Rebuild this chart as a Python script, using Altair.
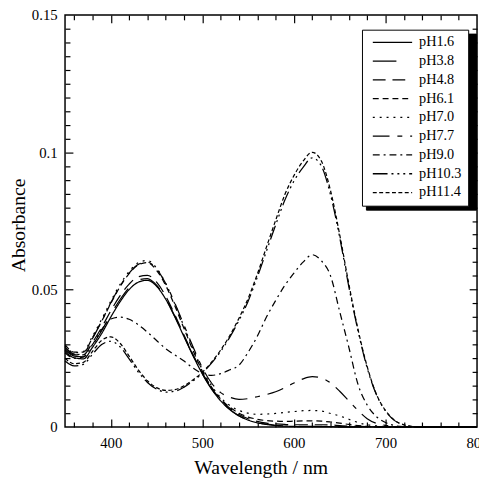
import altair as alt
import pandas as pd

# ---------------- data ----------------
wavelength = [350, 360, 370, 380, 390, 400, 410, 420, 430, 440,
              450, 460, 470, 480, 490, 500, 510, 520, 530, 540,
              550, 560, 570, 580, 590, 600, 610, 620, 630, 640,
              650, 660, 670, 680, 690, 700, 710, 720, 730, 740,
              750, 760, 770, 780, 790, 800]

ph16 = [0.0275, 0.0252, 0.0248, 0.0290, 0.0340, 0.0400, 0.0455, 0.0500, 0.0527, 0.0534,
        0.0512, 0.0465, 0.0400, 0.0328, 0.0258, 0.0193, 0.0138, 0.0095, 0.0063, 0.0040,
        0.0025, 0.0015, 0.0009, 0.0005, 0.0003, 0.0002, 0.0001, 0.0001, 0.0001, 0.0001,
        0.0, 0.0, 0.0, 0.0, 0.0, 0.0, 0.0, 0.0, 0.0, 0.0, 0.0, 0.0, 0.0, 0.0, 0.0, 0.0]
ph38 = [0.0280, 0.0258, 0.0255, 0.0298, 0.0350, 0.0410, 0.0463, 0.0507, 0.0535, 0.0540,
        0.0516, 0.0468, 0.0402, 0.0330, 0.0259, 0.0194, 0.0139, 0.0096, 0.0064, 0.0041,
        0.0026, 0.0016, 0.0010, 0.0006, 0.0004, 0.0003, 0.0002, 0.0002, 0.0002, 0.0001,
        0.0, 0.0, 0.0, 0.0, 0.0, 0.0, 0.0, 0.0, 0.0, 0.0, 0.0, 0.0, 0.0, 0.0, 0.0, 0.0]
ph48 = [0.0290, 0.0265, 0.0262, 0.0308, 0.0362, 0.0423, 0.0477, 0.0520, 0.0547, 0.0552,
        0.0527, 0.0476, 0.0408, 0.0334, 0.0262, 0.0196, 0.0142, 0.0099, 0.0068, 0.0045,
        0.0030, 0.0020, 0.0014, 0.0011, 0.0009, 0.0008, 0.0008, 0.0008, 0.0008, 0.0007,
        0.0005, 0.0003, 0.0002, 0.0001, 0.0, 0.0, 0.0, 0.0, 0.0, 0.0, 0.0, 0.0, 0.0, 0.0, 0.0, 0.0]
ph61 = [0.0300, 0.0272, 0.0272, 0.0325, 0.0385, 0.0450, 0.0510, 0.0558, 0.0590, 0.0598,
        0.0570, 0.0515, 0.0440, 0.0358, 0.0277, 0.0203, 0.0145, 0.0102, 0.0072, 0.0050,
        0.0036, 0.0028, 0.0023, 0.0021, 0.0020, 0.0021, 0.0022, 0.0022, 0.0021, 0.0018,
        0.0014, 0.0009, 0.0005, 0.0002, 0.0001, 0.0, 0.0, 0.0, 0.0, 0.0, 0.0, 0.0, 0.0, 0.0, 0.0, 0.0]
ph70 = [0.0295, 0.0270, 0.0275, 0.0330, 0.0392, 0.0458, 0.0518, 0.0566, 0.0598, 0.0606,
        0.0578, 0.0522, 0.0447, 0.0365, 0.0284, 0.0208, 0.0150, 0.0107, 0.0078, 0.0060,
        0.0050, 0.0046, 0.0047, 0.0049, 0.0053, 0.0056, 0.0059, 0.0060, 0.0058, 0.0049,
        0.0040, 0.0028, 0.0016, 0.0008, 0.0004, 0.0001, 0.0, 0.0, 0.0, 0.0, 0.0, 0.0, 0.0, 0.0, 0.0, 0.0]
ph77 = [0.0285, 0.0262, 0.0268, 0.0322, 0.0385, 0.0452, 0.0512, 0.0560, 0.0592, 0.0600,
        0.0575, 0.0522, 0.0450, 0.0370, 0.0290, 0.0215, 0.0160, 0.0125, 0.0108, 0.0100,
        0.0103, 0.0110, 0.0118, 0.0128, 0.0143, 0.0160, 0.0175, 0.0183, 0.0178, 0.0160,
        0.0130, 0.0095, 0.0060, 0.0030, 0.0013, 0.0006, 0.0002, 0.0, 0.0, 0.0, 0.0, 0.0, 0.0, 0.0, 0.0, 0.0]
ph90 = [0.0270, 0.0250, 0.0255, 0.0300, 0.0355, 0.0393, 0.0400, 0.0392, 0.0372, 0.0345,
        0.0315, 0.0285, 0.0262, 0.0240, 0.0214, 0.0194, 0.0188, 0.0194, 0.0208, 0.0225,
        0.0272, 0.0330, 0.0400, 0.0460, 0.0515, 0.0560, 0.0600, 0.0627, 0.0605, 0.0550,
        0.0420, 0.0290, 0.0155, 0.0080, 0.0038, 0.0016, 0.0005, 0.0001, 0.0, 0.0, 0.0, 0.0, 0.0, 0.0, 0.0, 0.0]
ph103 = [0.0240, 0.0222, 0.0228, 0.0265, 0.0300, 0.0312, 0.0292, 0.0248, 0.0200, 0.0162,
         0.0138, 0.0127, 0.0130, 0.0145, 0.0168, 0.0196, 0.0232, 0.0275, 0.0327, 0.0388,
         0.0458, 0.0545, 0.0640, 0.0735, 0.0825, 0.0895, 0.0945, 0.0980, 0.0950, 0.0845,
         0.0690, 0.0510, 0.0350, 0.0215, 0.0118, 0.0058, 0.0023, 0.0008, 0.0002, 0.0, 0.0, 0.0, 0.0, 0.0, 0.0, 0.0]
ph114 = [0.0250, 0.0230, 0.0235, 0.0275, 0.0315, 0.0328, 0.0305, 0.0258, 0.0208, 0.0168,
         0.0143, 0.0133, 0.0136, 0.0150, 0.0172, 0.0199, 0.0236, 0.0280, 0.0333, 0.0396,
         0.0468, 0.0556, 0.0655, 0.0752, 0.0845, 0.0915, 0.0968, 0.1000, 0.0968, 0.0860,
         0.0700, 0.0520, 0.0355, 0.0220, 0.0120, 0.0060, 0.0024, 0.0008, 0.0002, 0.0, 0.0, 0.0, 0.0, 0.0, 0.0, 0.0]

ph_labels = ["pH1.6", "pH3.8", "pH4.8", "pH6.1", "pH7.0", "pH7.7", "pH9.0", "pH10.3", "pH11.4"]
series = [ph16, ph38, ph48, ph61, ph70, ph77, ph90, ph103, ph114]

# tick values
x_major = [400, 500, 600, 700]
x_labels = [400, 500, 600, 700, 800]
x_minor = [v for v in range(360, 800, 20) if v % 100 != 0]
y_labels = [0, 0.05, 0.1, 0.15]
y_major = [0.05, 0.1]
y_minor = [round(i * 0.005, 3) for i in range(1, 30) if i % 10 != 0]

# ---------------- styles ----------------
dashes = [[1, 0], [24, 16], [13, 7], [6, 4], [2, 5], [17, 8, 5, 8], [7, 4, 2, 4],
          [15, 4, 2, 4, 2, 4, 2, 4], [4, 2.5]]
FONT = "Liberation Serif, Times New Roman, DejaVu Serif, serif"

rows = []
for lab, vals in zip(ph_labels, series):
    for w, a in zip(wavelength, vals):
        rows.append({"wavelength": w, "absorbance": a, "ph": lab})
df = pd.DataFrame(rows)

xscale = alt.Scale(domain=[350, 800], nice=False, zero=False)
yscale = alt.Scale(domain=[0, 0.15], nice=False, zero=False)

dash_scale = alt.Scale(domain=ph_labels, range=dashes)

common_legend = dict(
    orient="none", title=None, symbolType="stroke", symbolStrokeWidth=1.3,
    symbolStrokeColor="black", labelFont=FONT, labelFontSize=14.5, labelColor="black",
    padding=6, clipHeight=13.6, rowPadding=3.1, labelOffset=6, symbolOffset=4,
    strokeColor="black",
)

# drop shadow of the legend box (black box, no visible labels)
shadow = alt.Chart(df).mark_line(opacity=0).encode(
    x=alt.X("wavelength:Q", scale=xscale, axis=None),
    y=alt.Y("absorbance:Q", scale=yscale, axis=None),
    strokeDash=alt.StrokeDash(
        "ph:N", scale=dash_scale, sort=ph_labels,
        legend=alt.Legend(legendX=306, legendY=19, fillColor="black", symbolOpacity=0,
                          symbolSize=7744, labelExpr="''", zindex=0, **common_legend)),
)

lines = alt.Chart(df).mark_line(color="black", strokeWidth=1.25, interpolate="monotone").encode(
    x=alt.X("wavelength:Q", scale=xscale,
            axis=alt.Axis(orient="bottom", values=x_labels, ticks=False, domain=False,
                          grid=False, labelPadding=9, labelFont=FONT, labelFontSize=15,
                          labelColor="black", labelFlush=False, labelOverlap=False,
                          title="Wavelength / nm", titleFont=FONT, titleFontSize=20,
                          titleFontWeight="normal", titleColor="black", titleX=199,
                          titleY=47.5, titleBaseline="alphabetic")),
    y=alt.Y("absorbance:Q", scale=yscale,
            axis=alt.Axis(orient="left", values=y_labels, format=".2~f", ticks=False,
                          domain=False, grid=False, labelPadding=8, labelFont=FONT,
                          labelFontSize=15, labelColor="black", labelFlush=False,
                          labelOverlap=False, title="Absorbance", titleFont=FONT,
                          titleFontSize=20, titleFontWeight="normal", titleColor="black",
                          titleX=-41, titleY=213.5, titleBaseline="alphabetic",
                          titleAlign="center", titleAngle=270)),
    strokeDash=alt.StrokeDash(
        "ph:N", scale=dash_scale, sort=ph_labels,
        legend=alt.Legend(legendX=302, legendY=15, fillColor="white", symbolOpacity=1,
                          symbolSize=1600, zindex=1, **common_legend)),
)


def tick_layer(xorient, yorient, xvals, yvals, size):
    return alt.Chart(df).mark_point(opacity=0, size=1).encode(
        x=alt.X("wavelength:Q", scale=xscale, title=None,
                axis=alt.Axis(orient=xorient, values=xvals, tickSize=size, offset=-size,
                              labels=False, domain=False, grid=False, tickColor="black",
                              tickWidth=1.2)),
        y=alt.Y("absorbance:Q", scale=yscale, title=None,
                axis=alt.Axis(orient=yorient, values=yvals, tickSize=size, offset=-size,
                              labels=False, domain=False, grid=False, tickColor="black",
                              tickWidth=1.2)),
    )


chart = alt.layer(
    shadow,
    tick_layer("bottom", "left", x_major, y_major, 8),
    tick_layer("bottom", "left", x_minor, y_minor, 5),
    tick_layer("top", "right", x_major, y_major, 8),
    tick_layer("top", "right", x_minor, y_minor, 5),
    lines,
).resolve_axis(
    x="independent", y="independent"
).resolve_legend(
    strokeDash="independent"
).properties(
    width=419, height=419,
    autosize=alt.AutoSizeParams(type="none"),
    padding={"left": 58, "top": 3, "right": 2, "bottom": 56},
    background="white",
).configure(
    font=FONT
).configure_axis(
    labelFont=FONT, titleFont=FONT
).configure_legend(
    labelFont=FONT
).configure_text(
    font=FONT
).configure_view(
    stroke="black", strokeWidth=1.5
)

chart.save("out.html", embed_options={"renderer": "svg", "actions": False})
